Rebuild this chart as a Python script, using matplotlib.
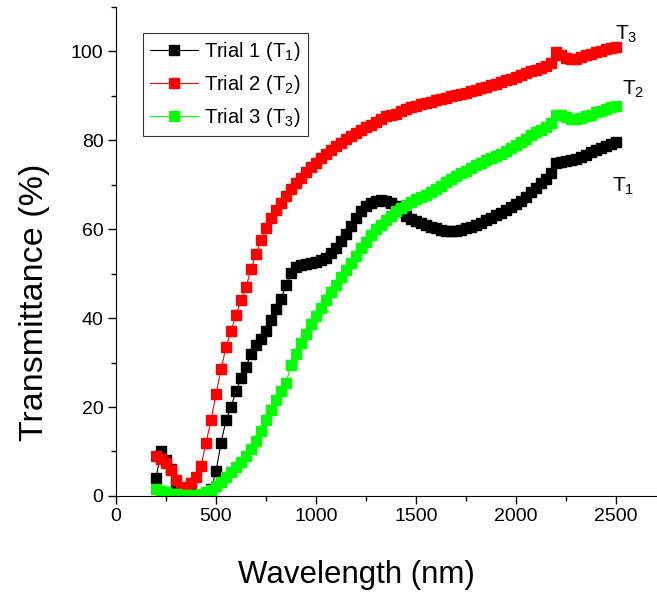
import matplotlib
matplotlib.use("Agg")
import matplotlib.pyplot as plt
from matplotlib.ticker import MultipleLocator

plt.rcParams['font.family'] = ['Liberation Sans', 'DejaVu Sans']
plt.rcParams['mathtext.fontset'] = 'custom'
plt.rcParams['mathtext.rm'] = 'Liberation Sans'
plt.rcParams['mathtext.default'] = 'regular'

# wavelength grid (nm)
wavelength = [
    200, 225, 250, 275, 300, 325, 350, 375, 400, 425, 450, 475,
    500, 525, 550, 575, 600, 625, 650, 675, 700, 725, 750, 775,
    800, 825, 850, 875, 900, 925, 950, 975, 1000, 1025, 1050, 1075,
    1100, 1125, 1150, 1175, 1200, 1225, 1250, 1275, 1300, 1325, 1350, 1375,
    1400, 1425, 1450, 1475, 1500, 1525, 1550, 1575, 1600, 1625, 1650, 1675,
    1700, 1725, 1750, 1775, 1800, 1825, 1850, 1875, 1900, 1925, 1950, 1975,
    2000, 2025, 2050, 2075, 2100, 2125, 2150, 2175, 2200, 2225, 2250, 2275,
    2300, 2325, 2350, 2375, 2400, 2425, 2450, 2475, 2500,
]

# transmittance (%)
trial1 = [
    4.0, 10.0, 8.0, 6.0, 2.8, 1.2, 0.6, 0.4, 0.3, 0.3, 0.5, 1.5,
    5.5, 12.0, 17.0, 20.0, 23.5, 26.5, 29.0, 32.0, 34.0, 35.2, 37.0, 39.5,
    42.0, 44.2, 47.5, 50.2, 51.5, 52.0, 52.2, 52.4, 52.6, 53.0, 53.6, 54.6,
    55.8, 57.3, 59.0, 60.8, 62.5, 64.0, 65.2, 65.9, 66.3, 66.5, 66.4, 66.0,
    65.2, 64.0, 63.0, 62.3, 61.8, 61.3, 60.9, 60.5, 60.2, 59.9, 59.7, 59.5,
    59.5, 59.8, 60.2, 60.6, 61.0, 61.5, 62.0, 62.6, 63.2, 63.7, 64.3, 64.9,
    65.6, 66.4, 67.3, 68.3, 69.3, 70.3, 71.3, 72.6, 74.8, 75.2, 75.4, 75.6,
    75.9, 76.3, 76.8, 77.3, 77.8, 78.3, 78.8, 79.2, 79.6,
]
trial2 = [
    9.0, 8.2, 7.4, 5.8, 3.6, 1.8, 1.9, 2.8, 4.2, 6.8, 12.0, 17.0,
    23.0, 28.5, 33.5, 37.0, 40.8, 44.0, 47.0, 51.0, 54.5, 57.5, 60.2, 62.5,
    64.3, 66.0, 67.5, 69.0, 70.4, 71.6, 72.8, 74.0, 75.0, 76.0, 77.0, 77.9,
    78.7, 79.5, 80.3, 81.0, 81.7, 82.3, 82.9, 83.5, 84.1, 84.7, 85.4, 85.6,
    86.0, 86.5, 87.0, 87.4, 87.8, 88.1, 88.4, 88.7, 89.0, 89.3, 89.6, 89.9,
    90.1, 90.4, 90.7, 91.0, 91.4, 91.8, 92.1, 92.4, 92.7, 93.1, 93.5, 93.9,
    94.3, 94.7, 95.1, 95.5, 95.9, 96.3, 96.8, 97.5, 99.8, 99.3, 98.6, 98.3,
    98.4, 98.7, 99.1, 99.5, 99.9, 100.2, 100.5, 100.8, 101.0,
]
trial3 = [
    1.5, 1.1, 0.8, 0.5, 0.4, 0.3, 0.2, 0.2, 0.2, 0.4, 0.8, 1.4,
    2.2, 3.2, 4.2, 5.3, 6.5, 7.7, 9.0, 10.6, 12.3, 14.5, 17.0, 19.3,
    21.5, 23.5, 25.5, 29.5, 32.0, 34.3, 36.5, 38.6, 40.5, 42.3, 44.1, 45.8,
    47.5, 49.2, 50.9, 52.5, 54.0, 55.7, 57.2, 58.6, 60.0, 61.0, 62.0, 63.0,
    64.0, 64.8, 65.5, 66.1, 66.7, 67.2, 67.8, 68.4, 69.0, 69.8, 70.6, 71.3,
    72.0, 72.6, 73.1, 73.8, 74.5, 75.0, 75.5, 76.0, 76.5, 77.0, 77.6, 78.3,
    79.0, 79.7, 80.4, 81.1, 81.8, 82.4, 83.1, 84.0, 85.8, 85.6, 85.2, 84.9,
    84.8, 85.0, 85.4, 85.8, 86.3, 86.7, 87.1, 87.4, 87.7,
]

fig = plt.figure(figsize=(6.57, 6.10), dpi=100)
ax = fig.add_axes([0.1766, 0.187, 0.8234, 0.8016])

ax.plot(wavelength, trial1, '-s', color='black', lw=0.8, ms=6.5, label='Trial 1 (T$_1$)')
ax.plot(wavelength, trial2, '-s', color='#ff0000', lw=0.8, ms=6.5, label='Trial 2 (T$_2$)')
ax.plot(wavelength, trial3, '-s', color='#00ff00', lw=0.8, ms=6.5, label='Trial 3 (T$_3$)')

ax.text(2550, 103.8, 'T$_3$', fontsize=15, ha='center', va='center')
ax.text(2585, 91.4, 'T$_2$', fontsize=15, ha='center', va='center')
ax.text(2535, 69.6, 'T$_1$', fontsize=15, ha='center', va='center')

ax.set_xlim(0, 2705)
ax.set_ylim(0, 110)
ax.xaxis.set_major_locator(MultipleLocator(500))
ax.xaxis.set_minor_locator(MultipleLocator(250))
ax.yaxis.set_major_locator(MultipleLocator(20))
ax.yaxis.set_minor_locator(MultipleLocator(10))
ax.spines['top'].set_visible(False)
ax.spines['right'].set_visible(False)
ax.tick_params(which='major', length=6, width=1, labelsize=14, pad=3)
ax.tick_params(which='minor', length=3.5, width=1)

ax.set_xlabel('Wavelength (nm)', fontsize=22.5)
ax.set_ylabel('Transmittance (%)', fontsize=24.5)
ax.xaxis.set_label_coords(0.444, -0.131)
ax.yaxis.set_label_coords(-0.122, 0.395)

leg = ax.legend(loc='upper left', bbox_to_anchor=(0.05, 0.947), borderaxespad=0,
                fontsize=14.5, fancybox=False, frameon=True, edgecolor='black',
                handlelength=2.4, handletextpad=0.3, labelspacing=0.5,
                borderpad=0.35)
leg.get_frame().set_linewidth(0.8)

fig.savefig('out.png', dpi=100)
